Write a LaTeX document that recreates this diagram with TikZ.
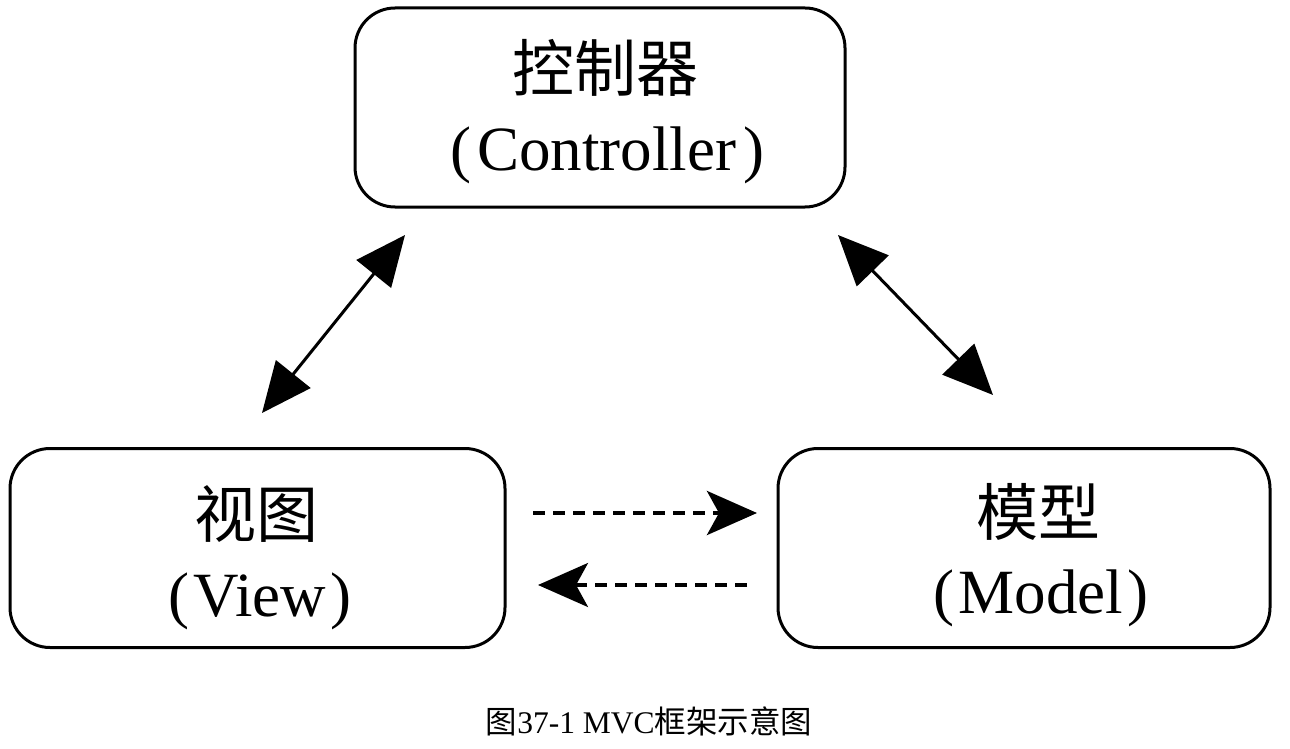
\documentclass[tikz,border=0pt]{standalone}
\usepackage{fontspec}
\setmainfont{Liberation Serif}
\newfontfamily\cjk{Noto Sans CJK SC}
\usetikzlibrary{arrows.meta}
\begin{document}
\begin{tikzpicture}[x=1pt,y=-1pt,
  box/.style={draw, line width=3pt, rounded corners=40pt, inner sep=0pt, minimum height=199pt},
  zhtext/.style={anchor=base, inner sep=0pt, font=\cjk\fontsize{62}{70}\selectfont},
  entext/.style={anchor=base, inner sep=0pt, font=\fontsize{63}{70}\selectfont},
  biarrow/.style={line width=3pt, {Triangle[length=50pt,width=44pt]}-{Triangle[length=50pt,width=44pt]}},
  dasharrow/.style={-{Stealth[length=50pt,width=44pt,inset=12pt]}, dash pattern=on 12pt off 8pt}
]
\useasboundingbox (0,0) rectangle (1290,749);
% boxes
\node[box, minimum width=490pt] (ctrl) at (600,107.5) {};
\node[box, minimum width=495pt] (view) at (257.5,548) {};
\node[box, minimum width=492pt] (model) at (1024,548) {};
% texts
\node[zhtext] (ctrlzh) at (605,92) {控制器};
\node[entext] (ctrlen) at (607,170) {(\hspace{6pt}Controller\hspace{7pt})};
\node[zhtext] (viewzh) at (256,537) {视图};
\node[entext] (viewen) at (260,616) {(\hspace{4pt}View\hspace{4pt})};
\node[zhtext] (modelzh) at (1038,535) {模型};
\node[entext] (modelen) at (1041,613) {(\hspace{4pt}Model\hspace{4pt})};
% connector ends
\coordinate (vc1) at (262,413);
\coordinate (vc2) at (405,235);
\coordinate (cm1) at (838,235);
\coordinate (cm2) at (993,395);
\coordinate (vm1) at (533,513);
\coordinate (vm2) at (757,513);
\coordinate (mv1) at (747,585);
\coordinate (mv2) at (538,585);
% connectors
\draw[biarrow] (vc1) -- (vc2);
\draw[biarrow] (cm1) -- (cm2);
\draw[dasharrow, line width=4.5pt] (vm1) -- (vm2);
\draw[dasharrow, line width=3.5pt] (mv1) -- (mv2);
% caption
\node[anchor=base, inner sep=0pt, font=\fontsize{31.5}{36}\selectfont] (cap) at (649,733) {{\cjk 图}37-1 MVC{\cjk 框架示意图}};
\end{tikzpicture}
\end{document}
